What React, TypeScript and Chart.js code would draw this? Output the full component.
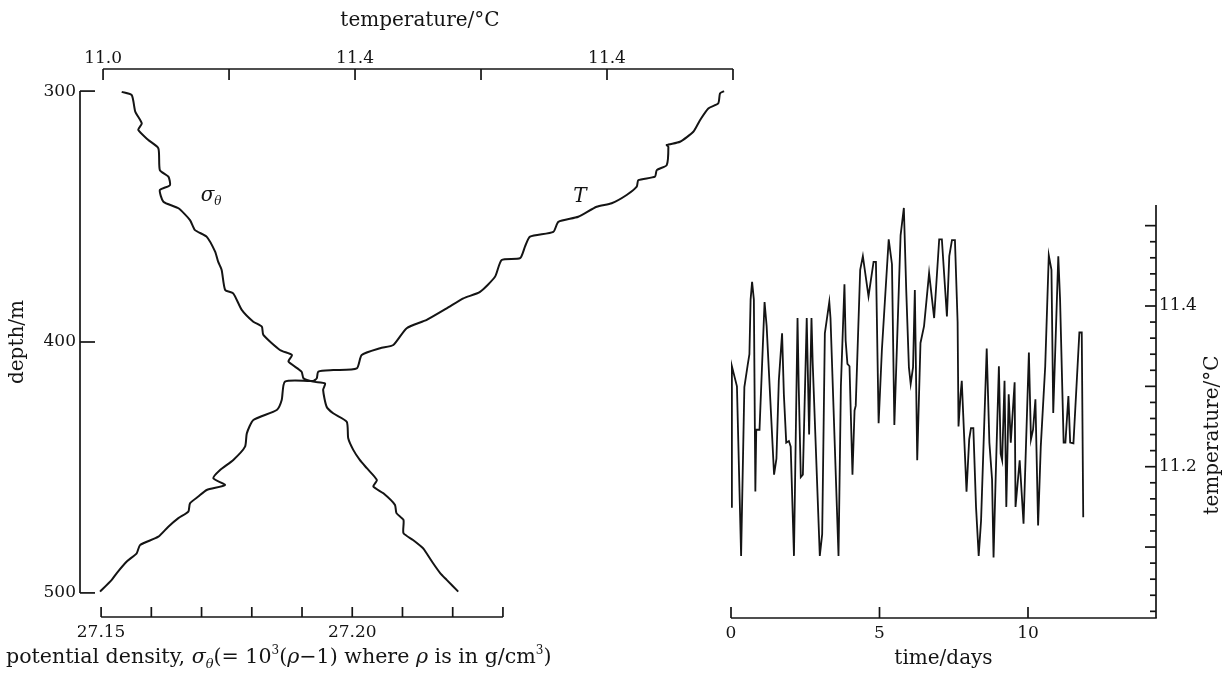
import React, { useEffect, useRef } from "react";
import { Chart, registerables } from "chart.js";

Chart.register(...registerables);

const INK = "#141414";
const SERIF = "'DejaVu Serif', 'Liberation Serif', serif";

// ---------------- Left panel: depth profiles ----------------
const SIGMA_DEPTH_M = [300.3, 301.6, 308.2, 312.9, 315.5, 319.5, 322.8, 331.5, 334.1, 337.5, 339.4, 344.1, 346.7, 351.4, 355.4, 358.0, 364.0, 368.0, 371.3, 379.3, 380.6, 387.2, 391.9, 393.9, 397.2, 403.2, 405.2, 407.8, 411.8, 414.5, 415.8, 416.5, 419.1, 425.8, 428.4, 431.8, 438.4, 443.0, 447.0, 450.3, 455.0, 457.6, 460.3, 464.9, 468.2, 470.9, 476.2, 478.9, 482.2, 484.2, 488.2, 492.1, 494.8, 499.5];
const SIGMA_THETA = [27.1541, 27.1561, 27.1568, 27.1581, 27.1574, 27.1594, 27.1614, 27.1617, 27.1634, 27.1637, 27.1617, 27.1624, 27.1654, 27.1677, 27.1687, 27.1710, 27.1727, 27.1733, 27.1740, 27.1747, 27.1763, 27.1780, 27.1803, 27.1820, 27.1823, 27.1856, 27.1880, 27.1873, 27.1899, 27.1903, 27.1922, 27.1946, 27.1942, 27.1949, 27.1962, 27.1989, 27.1992, 27.2002, 27.2015, 27.2029, 27.2049, 27.2042, 27.2062, 27.2085, 27.2088, 27.2102, 27.2102, 27.2121, 27.2141, 27.2148, 27.2161, 27.2175, 27.2188, 27.2211];

const T_DEPTH_M = [300.0, 300.9, 304.9, 306.9, 311.6, 316.2, 320.2, 321.5, 322.2, 329.5, 331.5, 334.1, 335.5, 338.1, 341.4, 344.7, 346.1, 350.1, 352.1, 356.1, 358.0, 362.0, 366.6, 367.3, 374.0, 380.0, 382.6, 386.6, 391.2, 394.5, 401.2, 402.5, 405.2, 410.5, 411.2, 411.8, 414.5, 415.5, 415.8, 423.1, 427.1, 431.1, 436.4, 441.7, 447.0, 451.0, 454.3, 457.0, 459.0, 461.6, 464.3, 467.6, 470.2, 473.6, 477.6, 480.9, 484.2, 487.5, 492.1, 494.8, 499.5];
const T_PROFILE_C = [11.4929, 11.4897, 11.4883, 11.4804, 11.4738, 11.4685, 11.4579, 11.4474, 11.4487, 11.4474, 11.4395, 11.4381, 11.4249, 11.4236, 11.4156, 11.4037, 11.3918, 11.3772, 11.3614, 11.3574, 11.3389, 11.3349, 11.3310, 11.3164, 11.3111, 11.2992, 11.2860, 11.2728, 11.2569, 11.2410, 11.2304, 11.2199, 11.2053, 11.2014, 11.1828, 11.1709, 11.1696, 11.1669, 11.1444, 11.1418, 11.1379, 11.1193, 11.1141, 11.1127, 11.1034, 11.0929, 11.0875, 11.0968, 11.0823, 11.0756, 11.0690, 11.0677, 11.0598, 11.0518, 11.0439, 11.0294, 11.0267, 11.0188, 11.0109, 11.0069, 10.9976];

const DEPTH_RANGE = [291.2, 509.6];
const DEPTH_TICKS = [300, 400, 500];
const DEPTH_TICK_LABELS = ["300", "400", "500"];

const TOP_TEMP_RANGE = [10.9817, 11.5008];
const TOP_TEMP_TICKS = [11.0, 11.1, 11.2, 11.3, 11.4, 11.5];
const TOP_TEMP_LABELS = ["11.0", "", "11.4", "", "11.4", ""];

const DENSITY_RANGE = [27.1458, 27.276];
const DENSITY_TICKS = [27.15, 27.16, 27.17, 27.18, 27.19, 27.2, 27.21, 27.22, 27.23];
const DENSITY_LABELS = ["27.15", "", "", "", "", "27.20", "", "", ""];

// annotation anchors (data coordinates)
const SIGMA_LABEL_AT = { x: 27.1719, y: 341.4 };
const T_LABEL_AT = { x: 11.3786, y: 341.4 };

// ---------------- Right panel: time series ----------------
const TIME_DAYS = [0.0, 0.03, 0.2, 0.34, 0.45, 0.56, 0.62, 0.66, 0.71, 0.77, 0.82, 0.85, 0.96, 1.13, 1.2, 1.45, 1.53, 1.61, 1.72, 1.78, 1.86, 1.95, 2.01, 2.12, 2.24, 2.28, 2.35, 2.42, 2.55, 2.63, 2.71, 2.75, 2.99, 3.07, 3.16, 3.31, 3.35, 3.62, 3.7, 3.82, 3.86, 3.92, 3.99, 4.09, 4.16, 4.2, 4.35, 4.44, 4.63, 4.8, 4.88, 4.97, 5.08, 5.31, 5.42, 5.5, 5.71, 5.82, 5.9, 5.99, 6.05, 6.13, 6.19, 6.27, 6.38, 6.5, 6.67, 6.84, 7.01, 7.1, 7.27, 7.35, 7.44, 7.54, 7.63, 7.66, 7.73, 7.77, 7.93, 8.02, 8.08, 8.16, 8.25, 8.34, 8.42, 8.61, 8.7, 8.79, 8.84, 8.91, 9.02, 9.08, 9.13, 9.21, 9.27, 9.35, 9.42, 9.55, 9.58, 9.72, 9.85, 10.03, 10.1, 10.17, 10.25, 10.34, 10.43, 10.58, 10.7, 10.79, 10.85, 11.02, 11.08, 11.2, 11.26, 11.36, 11.42, 11.53, 11.73, 11.81, 11.86];
const TIME_TEMP_C = [11.15, 11.325, 11.3, 11.089, 11.299, 11.326, 11.34, 11.408, 11.43, 11.408, 11.169, 11.246, 11.246, 11.405, 11.375, 11.19, 11.21, 11.307, 11.366, 11.29, 11.23, 11.232, 11.225, 11.089, 11.385, 11.3, 11.187, 11.19, 11.385, 11.24, 11.385, 11.33, 11.089, 11.116, 11.366, 11.405, 11.385, 11.089, 11.3, 11.427, 11.357, 11.328, 11.325, 11.19, 11.27, 11.276, 11.445, 11.462, 11.412, 11.455, 11.455, 11.254, 11.345, 11.483, 11.452, 11.252, 11.488, 11.522, 11.42, 11.324, 11.303, 11.324, 11.42, 11.208, 11.354, 11.375, 11.441, 11.385, 11.483, 11.483, 11.387, 11.462, 11.482, 11.482, 11.38, 11.25, 11.29, 11.307, 11.169, 11.234, 11.248, 11.248, 11.15, 11.089, 11.133, 11.347, 11.23, 11.184, 11.087, 11.184, 11.325, 11.216, 11.208, 11.307, 11.15, 11.29, 11.23, 11.305, 11.15, 11.208, 11.129, 11.342, 11.234, 11.246, 11.284, 11.127, 11.225, 11.325, 11.463, 11.445, 11.267, 11.462, 11.408, 11.23, 11.23, 11.288, 11.23, 11.229, 11.367, 11.367, 11.137];

const TIME_RANGE = [0, 14.31];
const TIME_TICKS = [0, 5, 10];
const TIME_TICK_LABELS = ["0", "5", "10"];

const RIGHT_TEMP_RANGE = [11.0117, 11.5257];
const RIGHT_TEMP_TICKS = [11.02, 11.04, 11.06, 11.08, 11.1, 11.12, 11.14, 11.16, 11.18, 11.2, 11.22, 11.24, 11.26, 11.28, 11.3, 11.32, 11.34, 11.36, 11.38, 11.4, 11.42, 11.44, 11.46, 11.48, 11.5];
const RIGHT_TEMP_MAJOR = [11.1, 11.2, 11.3, 11.4, 11.5];
const RIGHT_TEMP_LABELLED = [11.2, 11.4];
const RIGHT_TEMP_LABELS = ["11.2", "11.4"];

// ---------------- helpers ----------------
type Part = { t: string; size: number; italic?: boolean; dy?: number };

function fontOf(size: number, italic?: boolean) {
  return `${italic ? "italic " : ""}${size}px ${SERIF}`;
}

function drawRich(ctx: CanvasRenderingContext2D, parts: Part[], x: number, y: number, align: "left" | "center") {
  ctx.save();
  ctx.fillStyle = INK;
  ctx.textBaseline = "alphabetic";
  ctx.textAlign = "left";
  const widths = parts.map((p) => {
    ctx.font = fontOf(p.size, p.italic);
    return ctx.measureText(p.t).width;
  });
  const total = widths.reduce((a, b) => a + b, 0);
  let cx = align === "center" ? x - total / 2 : x;
  parts.forEach((p, i) => {
    ctx.font = fontOf(p.size, p.italic);
    ctx.fillText(p.t, cx, y + (p.dy || 0));
    cx += widths[i];
  });
  ctx.restore();
}

function drawRotated(ctx: CanvasRenderingContext2D, text: string, x: number, y: number, size: number) {
  ctx.save();
  ctx.translate(x, y);
  ctx.rotate(-Math.PI / 2);
  ctx.font = fontOf(size);
  ctx.fillStyle = INK;
  ctx.textAlign = "center";
  ctx.textBaseline = "middle";
  ctx.fillText(text, 0, 0);
  ctx.restore();
}

function seg(ctx: CanvasRenderingContext2D, x1: number, y1: number, x2: number, y2: number) {
  ctx.beginPath();
  ctx.moveTo(x1, y1);
  ctx.lineTo(x2, y2);
  ctx.stroke();
}

const near = (a: number, b: number) => Math.abs(a - b) < 1e-6;

const tickFont = { family: SERIF, size: 17 };

// ---------------- plugins ----------------
const leftAxesPlugin = {
  id: "leftAxes",
  afterDraw(chart: any) {
    const { ctx, chartArea, scales } = chart;
    const y = scales.y;
    const xt = scales.xTemp;
    const xd = scales.xDen;
    ctx.save();
    ctx.strokeStyle = INK;
    ctx.lineWidth = 1.7;
    // depth axis (left)
    const ax = chartArea.left;
    seg(ctx, ax, y.getPixelForValue(DEPTH_TICKS[0]), ax, y.getPixelForValue(DEPTH_TICKS[DEPTH_TICKS.length - 1]));
    DEPTH_TICKS.forEach((v) => {
      const p = y.getPixelForValue(v);
      seg(ctx, ax, p, ax + 15, p);
    });
    // temperature axis (top)
    const ty = chartArea.top;
    seg(ctx, xt.getPixelForValue(TOP_TEMP_TICKS[0]), ty, xt.getPixelForValue(TOP_TEMP_TICKS[TOP_TEMP_TICKS.length - 1]), ty);
    TOP_TEMP_TICKS.forEach((v) => {
      const p = xt.getPixelForValue(v);
      seg(ctx, p, ty, p, ty + 11);
    });
    // density axis (bottom)
    const by = chartArea.bottom;
    seg(ctx, xd.getPixelForValue(DENSITY_TICKS[0]), by, xd.getPixelForValue(DENSITY_TICKS[DENSITY_TICKS.length - 1]), by);
    DENSITY_TICKS.forEach((v) => {
      const p = xd.getPixelForValue(v);
      seg(ctx, p, by, p, by - 10);
    });
    ctx.restore();

    // titles
    drawRich(ctx, [{ t: "temperature/°C", size: 20 }], 420, 26, "center");
    drawRotated(ctx, "depth/m", 18, y.getPixelForValue(400), 20);
    const B = 20.6;
    drawRich(
      ctx,
      [
        { t: "potential density, ", size: B },
        { t: "σ", size: B, italic: true },
        { t: "θ", size: 13, italic: true, dy: 5 },
        { t: "(= 10", size: B },
        { t: "3", size: 12, dy: -9 },
        { t: "(", size: B },
        { t: "ρ", size: B, italic: true },
        { t: "−1) where ", size: B },
        { t: "ρ", size: B, italic: true },
        { t: " is in g/cm", size: B },
        { t: "3", size: 12, dy: -9 },
        { t: ")", size: B },
      ],
      6,
      663,
      "left"
    );
    // in-plot labels
    const sx = xd.getPixelForValue(SIGMA_LABEL_AT.x);
    const sy = y.getPixelForValue(SIGMA_LABEL_AT.y);
    drawRich(ctx, [{ t: "σ", size: 20, italic: true }, { t: "θ", size: 12, italic: true, dy: 4 }], sx, sy + 6, "center");
    const tx = xt.getPixelForValue(T_LABEL_AT.x);
    drawRich(ctx, [{ t: "T", size: 20, italic: true }], tx, sy + 7, "center");
  },
};

const rightAxesPlugin = {
  id: "rightAxes",
  afterDraw(chart: any) {
    const { ctx, chartArea, scales } = chart;
    const x = scales.x;
    const y = scales.y;
    ctx.save();
    ctx.strokeStyle = INK;
    ctx.lineWidth = 1.7;
    const by = chartArea.bottom;
    const rx = chartArea.right;
    seg(ctx, chartArea.left, by, rx + 0.8, by);
    TIME_TICKS.forEach((v) => {
      const p = x.getPixelForValue(v);
      seg(ctx, p, by, p, by - 11);
    });
    seg(ctx, rx, chartArea.top, rx, by);
    RIGHT_TEMP_TICKS.forEach((v) => {
      const p = y.getPixelForValue(v);
      const major = RIGHT_TEMP_MAJOR.some((m) => near(m, v));
      seg(ctx, rx - (major ? 11 : 6), p, rx, p);
    });
    ctx.restore();
    drawRich(ctx, [{ t: "time/days", size: 20 }], (chartArea.left + chartArea.right) / 2, 664, "center");
    drawRotated(ctx, "temperature/°C", 533, 435, 20);
  },
};

// ---------------- components ----------------
function ProfilePanel() {
  const ref = useRef<HTMLCanvasElement | null>(null);
  useEffect(() => {
    if (!ref.current) return;
    const chart = new Chart(ref.current, {
      type: "scatter",
      data: {
        datasets: [
          {
            label: "σθ",
            data: SIGMA_DEPTH_M.map((d, i) => ({ x: SIGMA_THETA[i], y: d })),
            xAxisID: "xDen",
            yAxisID: "y",
            showLine: true,
            borderColor: INK,
            borderWidth: 2,
            pointRadius: 0,
            tension: 0.2,
          },
          {
            label: "T",
            data: T_DEPTH_M.map((d, i) => ({ x: T_PROFILE_C[i], y: d })),
            xAxisID: "xTemp",
            yAxisID: "y",
            showLine: true,
            borderColor: INK,
            borderWidth: 2,
            pointRadius: 0,
            tension: 0.2,
          },
        ],
      },
      options: {
        animation: false,
        responsive: false,
        maintainAspectRatio: false,
        layout: { padding: { left: 0, right: 26, top: 0, bottom: 0 } },
        plugins: { legend: { display: false }, tooltip: { enabled: false } },
        scales: {
          y: {
            type: "linear",
            position: "left",
            reverse: true,
            min: DEPTH_RANGE[0],
            max: DEPTH_RANGE[1],
            afterBuildTicks: (s: any) => {
              s.ticks = DEPTH_TICKS.map((v) => ({ value: v }));
            },
            afterFit: (s: any) => {
              s.width = 80;
            },
            grid: { display: false, drawTicks: false },
            border: { display: false },
            ticks: {
              autoSkip: false,
              padding: 4,
              color: INK,
              font: tickFont,
              callback: (_v: any, i: number) => DEPTH_TICK_LABELS[i],
            },
          },
          xTemp: {
            type: "linear",
            position: "top",
            min: TOP_TEMP_RANGE[0],
            max: TOP_TEMP_RANGE[1],
            afterBuildTicks: (s: any) => {
              s.ticks = TOP_TEMP_TICKS.map((v) => ({ value: v }));
            },
            afterFit: (s: any) => {
              s.height = 69;
            },
            grid: { display: false, drawTicks: false },
            border: { display: false },
            ticks: {
              autoSkip: false,
              maxRotation: 0,
              padding: 0,
              color: INK,
              font: tickFont,
              callback: (_v: any, i: number) => TOP_TEMP_LABELS[i],
            },
          },
          xDen: {
            type: "linear",
            position: "bottom",
            min: DENSITY_RANGE[0],
            max: DENSITY_RANGE[1],
            afterBuildTicks: (s: any) => {
              s.ticks = DENSITY_TICKS.map((v) => ({ value: v }));
            },
            afterFit: (s: any) => {
              s.height = 56;
            },
            grid: { display: false, drawTicks: false },
            border: { display: false },
            ticks: {
              autoSkip: false,
              maxRotation: 0,
              padding: 5,
              color: INK,
              font: tickFont,
              callback: (_v: any, i: number) => DENSITY_LABELS[i],
            },
          },
        },
      },
      plugins: [leftAxesPlugin],
    } as any);
    return () => chart.destroy();
  }, []);
  return (
    <canvas
      ref={ref}
      width={760}
      height={673}
      style={{ position: "absolute", left: 0, top: 0, width: 760, height: 673 }}
    />
  );
}

function TimeSeriesPanel() {
  const ref = useRef<HTMLCanvasElement | null>(null);
  useEffect(() => {
    if (!ref.current) return;
    const chart = new Chart(ref.current, {
      type: "line",
      data: {
        datasets: [
          {
            label: "temperature",
            data: TIME_DAYS.map((t, i) => ({ x: t, y: TIME_TEMP_C[i] })),
            borderColor: INK,
            borderWidth: 1.8,
            pointRadius: 0,
            tension: 0,
          },
        ],
      },
      options: {
        animation: false,
        responsive: false,
        maintainAspectRatio: false,
        layout: { padding: { left: 51, right: 0, top: 205, bottom: 0 } },
        plugins: { legend: { display: false }, tooltip: { enabled: false } },
        scales: {
          x: {
            type: "linear",
            position: "bottom",
            min: TIME_RANGE[0],
            max: TIME_RANGE[1],
            afterBuildTicks: (s: any) => {
              s.ticks = TIME_TICKS.map((v) => ({ value: v }));
            },
            afterFit: (s: any) => {
              s.height = 55;
            },
            grid: { display: false, drawTicks: false },
            border: { display: false },
            ticks: {
              autoSkip: false,
              maxRotation: 0,
              padding: 5,
              color: INK,
              font: tickFont,
              callback: (_v: any, i: number) => TIME_TICK_LABELS[i],
            },
          },
          y: {
            type: "linear",
            position: "right",
            min: RIGHT_TEMP_RANGE[0],
            max: RIGHT_TEMP_RANGE[1],
            afterBuildTicks: (s: any) => {
              s.ticks = RIGHT_TEMP_TICKS.map((v) => ({ value: v }));
            },
            afterFit: (s: any) => {
              s.width = 73;
            },
            grid: { display: false, drawTicks: false },
            border: { display: false },
            ticks: {
              autoSkip: false,
              padding: 3,
              color: INK,
              font: tickFont,
              callback: (v: any) => {
                const k = RIGHT_TEMP_LABELLED.findIndex((m) => near(m, Number(v)));
                return k >= 0 ? RIGHT_TEMP_LABELS[k] : "";
              },
            },
          },
        },
      },
      plugins: [rightAxesPlugin],
    } as any);
    return () => chart.destroy();
  }, []);
  return (
    <canvas
      ref={ref}
      width={549}
      height={673}
      style={{ position: "absolute", left: 680, top: 0, width: 549, height: 673 }}
    />
  );
}

export default function App() {
  return (
    <div
      style={{
        position: "absolute",
        left: 0,
        top: 0,
        width: 1229,
        height: 673,
        background: "#ffffff",
        overflow: "hidden",
      }}
    >
      <ProfilePanel />
      <TimeSeriesPanel />
    </div>
  );
}
